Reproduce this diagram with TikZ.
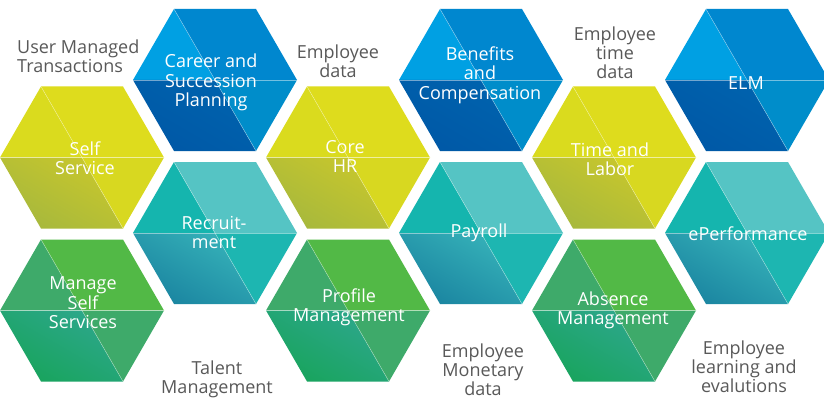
\documentclass[tikz,border=0pt]{standalone}
\usepackage{fontspec}
\setmainfont{Open Sans}
\definecolor{blueTL}{HTML}{00A0E3}
\definecolor{blueTR}{HTML}{0087CF}
\definecolor{blueBLa}{HTML}{0058A6}
\definecolor{blueBLb}{HTML}{0063AE}
\definecolor{blueBR}{HTML}{008DCA}
\definecolor{yelTL}{HTML}{DADB1E}
\definecolor{yelTR}{HTML}{DEDC1D}
\definecolor{yelBLa}{HTML}{A6B83D}
\definecolor{yelBLb}{HTML}{C8C72C}
\definecolor{yelBR}{HTML}{D8D820}
\definecolor{tealTL}{HTML}{15B5AE}
\definecolor{tealTR}{HTML}{55C4C4}
\definecolor{tealBLa}{HTML}{1A84A0}
\definecolor{tealBLb}{HTML}{36B2B9}
\definecolor{tealBR}{HTML}{1DB6B1}
\definecolor{grnTL}{HTML}{3EAA6A}
\definecolor{grnTR}{HTML}{52B946}
\definecolor{grnBLa}{HTML}{18A45C}
\definecolor{grnBLb}{HTML}{2DA78C}
\definecolor{grnBR}{HTML}{3EAA6A}
\definecolor{notegray}{HTML}{595959}
\tikzset{
  lbl/.style={text=white, align=center, font=\fontsize{18}{19.5}\selectfont, inner sep=0pt},
  note/.style={text=notegray, align=center, font=\fontsize{18}{19}\selectfont, inner sep=0pt},
  divider/.style={draw=white, draw opacity=0.45, line width=0.5pt},
}
% #1 x, #2 y, #3 palette
\newcommand\hexcell[3]{%
  \begin{scope}[shift={(#1,#2)}]
    \fill[#3TL] (-82,0) -- (-41,71) -- (0,0) -- cycle;
    \fill[#3TR] (-41,71) -- (41,71) -- (82,0) -- (0,0) -- cycle;
    \shade[top color=#3BLb, bottom color=#3BLa, shading angle=-30] (-82,0) -- (0,0) -- (41,-71) -- (-41,-71) -- cycle;
    \fill[#3BR] (0,0) -- (82,0) -- (41,-71) -- cycle;
    \path[divider] (-41,71) -- (41,-71);
    \path[divider] (-82,0) -- (82,0);
  \end{scope}}
\begin{document}
\begin{tikzpicture}[x=1pt,y=1pt]
\path[use as bounding box, fill=white] (0,0) rectangle (824,405);
\begin{scope}
\clip (0,0) rectangle (824,405);
\hexcell{82}{247.5}{yel}
\hexcell{82}{94.5}{grn}
\hexcell{215}{325}{blue}
\hexcell{215}{172}{teal}
\hexcell{348}{247.5}{yel}
\hexcell{348}{94.5}{grn}
\hexcell{481}{325}{blue}
\hexcell{481}{172}{teal}
\hexcell{614}{247.5}{yel}
\hexcell{614}{94.5}{grn}
\hexcell{747}{325}{blue}
\hexcell{747}{172}{teal}
\end{scope}
% white labels
\node[lbl] (career) at (211,322.5) {Career and\\Succession\\Planning};
\node[lbl] (self) at (85,247) {Self\\Service};
\node[lbl] (recruit) at (214,172.5) {Recruit-\\ment};
\node[lbl] (core) at (345,248.5) {Core\\HR};
\node[lbl] (profile) at (349,97.5) {Profile\\Management};
\node[lbl] (manage) at (83,102) {Manage\\Self\\Services};
\node[lbl] (benefits) at (480,330) {Benefits\\and\\Compensation};
\node[lbl] (time) at (610,246) {Time and\\Labor};
\node[lbl] (elm) at (746,322) {ELM};
\node[lbl] (payroll) at (479,172) {Payroll};
\node[lbl] (absence) at (613,94.5) {Absence\\Management};
\node[lbl] (eperf) at (748,171) {ePerformance};
% gray notes
\node[note, align=left, anchor=west] (umt) at (17,349) {User Managed\\Transactions};
\node[note] (empdata) at (338,344) {Employee\\data};
\node[note] (emptime) at (615,352) {Employee\\time\\data};
\node[note] (talent) at (217,26) {Talent\\Management};
\node[note] (empmon) at (483,35) {Employee\\Monetary\\data};
\node[note] (emplearn) at (744,38) {Employee\\learning and\\evalutions};
\end{tikzpicture}
\end{document}
